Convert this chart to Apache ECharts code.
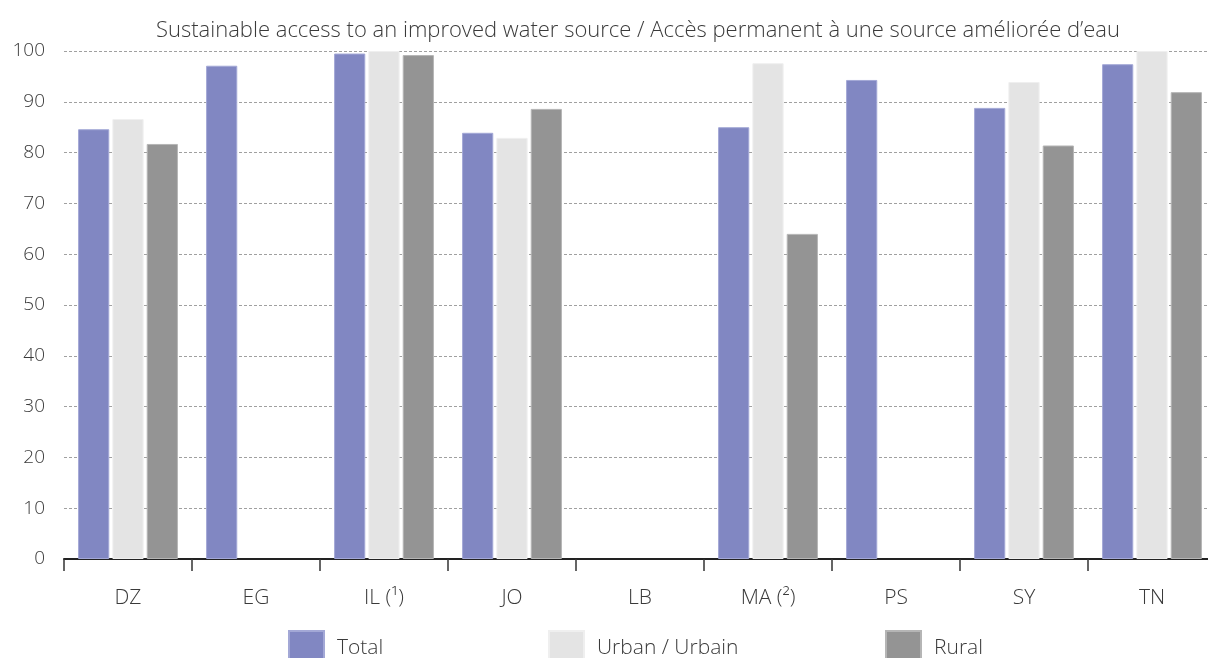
<!DOCTYPE html>
<html>
<head>
<meta charset="utf-8">
<script src="https://cdn.jsdelivr.net/npm/echarts@6/dist/echarts.min.js"></script>
<style>
html,body{margin:0;padding:0;background:#fff;}
#chart{width:1208px;height:658px;}
</style>
</head>
<body>
<div id="chart"></div>
<script>
const titleText = 'Sustainable access to an improved water source / Accès permanent à une source améliorée d’eau';
const categories = ['DZ', 'EG', 'IL (¹)', 'JO', 'LB', 'MA (²)', 'PS', 'SY', 'TN'];
const seriesNames = ['Total', 'Urban / Urbain', 'Rural'];
const totalValues = [84.6, 97.1, 99.5, 83.9, null, 85.0, 94.3, 88.8, 97.4];
const urbanValues = [86.6, null, 100, 82.9, null, 97.6, null, 93.9, 100];
const ruralValues = [81.7, null, 99.2, 88.6, null, 64.0, null, 81.4, 91.9];
const yTicks = [0, 10, 20, 30, 40, 50, 60, 70, 80, 90, 100];

const FONT = '"Open Sans", "DejaVu Sans", sans-serif';
const textColor = '#3a3a3a';
const colors = ['#8187c2', '#e4e4e4', '#949494'];
const borders = ['#a3a8d6', '#efefef', '#b5b5b5'];
const valueSets = [totalValues, urbanValues, ruralValues];
const legendLefts = [283, 543, 880];

const chart = echarts.init(document.getElementById('chart'), null, {renderer: 'canvas'});

const series = seriesNames.map((name, i) => ({
  name: name,
  type: 'bar',
  data: valueSets[i],
  barCategoryGap: '22%',
  barGap: '10%',
  itemStyle: {color: colors[i], borderColor: borders[i], borderWidth: 1},
  emphasis: {disabled: true},
  animation: false
}));

const legends = seriesNames.map((name, i) => ({
  data: [name],
  left: legendLefts[i],
  top: 625,
  orient: 'horizontal',
  icon: 'rect',
  itemWidth: 35,
  itemHeight: 34,
  selectedMode: false,
  textStyle: {fontFamily: FONT, fontSize: 21, fontWeight: 300, color: textColor, padding: [10, 0, 0, 8]}
}));

chart.setOption({
  backgroundColor: '#ffffff',
  animation: false,
  title: {
    text: titleText,
    left: 633,
    textAlign: 'center',
    top: 15,
    textStyle: {fontFamily: FONT, fontSize: 22, fontWeight: 300, color: textColor}
  },
  legend: legends,
  grid: {left: 64, top: 51, width: 1152, height: 508, containLabel: false, outerBoundsMode: 'none'},
  xAxis: {
    type: 'category',
    data: categories,
    axisLine: {show: true, lineStyle: {color: '#222', width: 2}},
    axisTick: {show: true, length: 12, lineStyle: {color: '#333', width: 1.5}},
    axisLabel: {fontFamily: FONT, fontSize: 21, fontWeight: 300, color: textColor, margin: 29},
    splitLine: {show: false}
  },
  yAxis: {
    type: 'value',
    min: yTicks[0],
    max: yTicks[yTicks.length - 1],
    interval: yTicks[1] - yTicks[0],
    axisLine: {show: false},
    axisTick: {show: false},
    axisLabel: {fontFamily: FONT, fontSize: 19, fontWeight: 300, color: textColor, margin: 19,
      formatter: v => yTicks.includes(v) ? String(v) : ''},
    splitLine: {show: true, lineStyle: {color: '#a0a0a0', width: 1, type: [3, 2]}}
  },
  series: series
});
</script>
</body>
</html>
